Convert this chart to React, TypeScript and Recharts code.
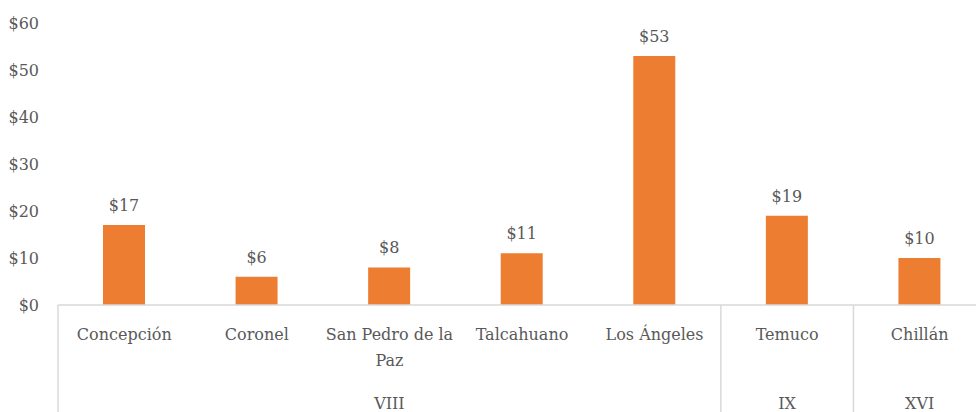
import { Bar, BarChart, LabelList, Text, XAxis, YAxis } from "recharts";

const cities = ["Concepción", "Coronel", "San Pedro de la Paz", "Talcahuano", "Los Ángeles", "Temuco", "Chillán"];
const regions = ["VIII", "VIII", "VIII", "VIII", "VIII", "IX", "XVI"];
const amounts = [17, 6, 8, 11, 53, 19, 10];
const yTicks = [0, 10, 20, 30, 40, 50, 60];

const data = cities.map((city, i) => ({ city, region: regions[i], value: amounts[i] }));

const CHART_W = 986;
const CHART_H = 412;
const Y_W = 58;
const BAND = (CHART_W - Y_W) / cities.length;
const GRAY = "#595959";
const LINE = "#d9d9d9";
const FONT = "'DejaVu Serif'";
const FS = 16;
const txt = { fontFamily: FONT, fontSize: FS };

// middle category of each region group gets the group label
function groupMid(i: number) {
  let s = i;
  while (s > 0 && regions[s - 1] === regions[i]) s--;
  let e = i;
  while (e < regions.length - 1 && regions[e + 1] === regions[i]) e++;
  return Math.floor((s + e) / 2);
}

function CityTick(props: any) {
  const { x, y, payload, index } = props;
  const half = payload?.offset || BAND / 2;
  const groupStart = index === 0 || regions[index] !== regions[index - 1];
  return (
    <g>
      <Text
        x={x}
        y={y + 24}
        width={BAND - 4}
        textAnchor="middle"
        verticalAnchor="start"
        lineHeight={26}
        fill={GRAY}
        fontSize={FS}
        fontFamily={FONT}
        style={txt}
      >
        {payload.value}
      </Text>
      {groupMid(index) === index && (
        <text x={x} y={y + 104} textAnchor="middle" fill={GRAY} style={txt}>
          {regions[index]}
        </text>
      )}
      {groupStart && <line x1={x - half} x2={x - half} y1={y} y2={CHART_H} stroke={LINE} strokeWidth={1.5} />}
    </g>
  );
}

export default function App() {
  return (
    <div
      style={{
        position: "absolute",
        left: 0,
        top: 0,
        width: 976,
        height: CHART_H,
        overflow: "hidden",
        background: "#fff",
        fontFamily: FONT,
      }}
    >
      <BarChart
        width={CHART_W}
        height={CHART_H}
        data={data}
        margin={{ top: 23, right: 0, bottom: 0, left: 0 }}
        style={{ fontFamily: FONT }}
      >
        <XAxis
          dataKey="city"
          interval={0}
          height={107}
          tickLine={false}
          tickSize={0}
          tickMargin={0}
          axisLine={{ stroke: LINE, strokeWidth: 1.5 }}
          tick={<CityTick />}
        />
        <YAxis
          domain={[0, 60]}
          ticks={yTicks}
          width={Y_W}
          axisLine={false}
          tickLine={false}
          tickSize={0}
          tickMargin={19}
          tickFormatter={(v) => `$${v}`}
          tick={{ fill: GRAY, fontSize: FS, fontFamily: FONT, style: txt }}
        />
        <Bar dataKey="value" fill="#ED7D31" barSize={42} isAnimationActive={false}>
          <LabelList
            dataKey="value"
            position="top"
            offset={14}
            formatter={(v: any) => `$${v}`}
            fill={GRAY}
            fontSize={FS}
            fontFamily={FONT}
            style={txt}
          />
        </Bar>
      </BarChart>
    </div>
  );
}
